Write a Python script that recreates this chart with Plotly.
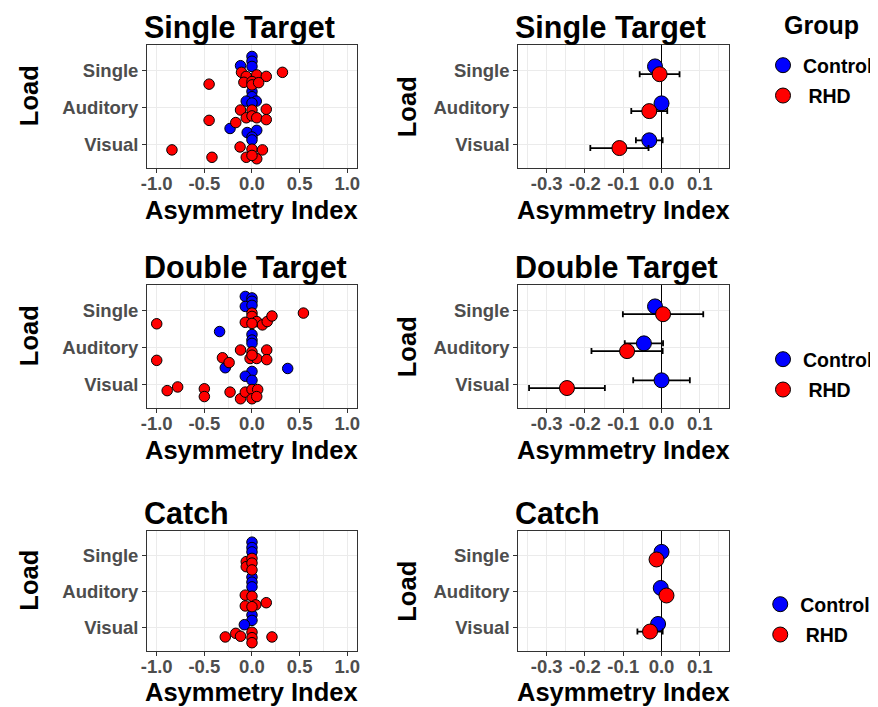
import plotly.graph_objects as go

# ---------------- data ----------------
loads = ["Single", "Auditory", "Visual"]
groups = ["Control", "RHD"]
panel_titles = ["Single Target", "Double Target", "Catch"]

# tick values / labels
left_ticks = [-1.0, -0.5, 0.0, 0.5, 1.0]
left_ticklabels = ["-1.0", "-0.5", "0.0", "0.5", "1.0"]
right_ticks = [-0.3, -0.2, -0.1, 0.0, 0.1]
right_ticklabels = ["-0.3", "-0.2", "-0.1", "0.0", "0.1"]

# Individual asymmetry indices (x) with their vertical jitter offsets
# --- Single Target ---
st_ctrl_single_x = [0.0, 0.0, -0.12, 0.0]
st_ctrl_single_j = [0.38, 0.25, 0.13, 0.11]
st_ctrl_aud_x = [0.0, 0.0, -0.06, 0.045, 0.0]
st_ctrl_aud_j = [0.43, 0.29, 0.17, 0.17, 0.12]
st_ctrl_vis_x = [-0.23, -0.05, 0.05, 0.0, 0.0]
st_ctrl_vis_j = [0.43, 0.32, 0.38, 0.20, 0.12]
st_rhd_single_x = [-0.11, -0.06, 0.05, 0.15, 0.32, -0.45, -0.085, 0.0, 0.0, 0.07]
st_rhd_single_j = [-0.05, -0.16, -0.12, -0.16, -0.05, -0.37, -0.32, -0.30, -0.39, -0.33]
st_rhd_aud_x = [-0.12, 0.0, 0.15, -0.06, 0.0, 0.05, 0.15, -0.45, -0.17]
st_rhd_aud_j = [-0.07, -0.07, -0.05, -0.28, -0.23, -0.28, -0.33, -0.35, -0.41]
st_rhd_vis_x = [-0.84, -0.125, 0.0, 0.11, -0.42, -0.06, 0.05, 0.0]
st_rhd_vis_j = [-0.15, -0.07, -0.13, -0.15, -0.35, -0.35, -0.39, -0.30]
# --- Double Target ---
dt_ctrl_single_x = [-0.07, 0.0, 0.0, -0.07, 0.0]
dt_ctrl_single_j = [0.38, 0.34, 0.25, 0.11, 0.14]
dt_ctrl_aud_x = [-0.34, 0.0, 0.0, 0.0]
dt_ctrl_aud_j = [0.43, 0.35, 0.20, 0.11]
dt_ctrl_vis_x = [-0.28, 0.375, 0.0, -0.07, 0.0]
dt_ctrl_vis_j = [0.45, 0.43, 0.35, 0.22, 0.11]
dt_rhd_single_x = [0.0, 0.0, -0.07, 0.05, 0.11, 0.16, 0.21, 0.54, -1.0, 0.0]
dt_rhd_single_j = [-0.07, -0.16, -0.32, -0.30, -0.39, -0.30, -0.15, -0.07, -0.36, -0.35]
dt_rhd_aud_x = [-0.12, 0.0, 0.155, -0.31, -0.24, -0.02, 0.05, 0.155, -1.0, 0.0]
dt_rhd_aud_j = [-0.07, -0.12, -0.07, -0.28, -0.41, -0.30, -0.30, -0.33, -0.35, -0.21]
dt_rhd_vis_x = [-0.89, -0.78, -0.5, -0.5, -0.23, -0.12, -0.07, 0.0, 0.06, 0.0, 0.05]
dt_rhd_vis_j = [-0.17, -0.07, -0.12, -0.33, -0.21, -0.39, -0.21, -0.14, -0.14, -0.39, -0.33]
# --- Catch ---
ca_ctrl_single_x = [0.0, 0.0, 0.0]
ca_ctrl_single_j = [0.38, 0.23, 0.11]
ca_ctrl_aud_x = [0.0, 0.0, 0.0]
ca_ctrl_aud_j = [0.41, 0.27, 0.14]
ca_ctrl_vis_x = [0.0, 0.0, -0.08]
ca_ctrl_vis_j = [0.36, 0.21, 0.09]
ca_rhd_single_x = [-0.06, -0.06, 0.0, 0.0, 0.0]
ca_rhd_single_j = [-0.16, -0.30, -0.07, -0.20, -0.39]
ca_rhd_aud_x = [-0.07, 0.0, 0.15, -0.07, 0.04, 0.0]
ca_rhd_aud_j = [-0.09, -0.12, -0.30, -0.39, -0.36, -0.41]
ca_rhd_vis_x = [-0.28, -0.17, -0.12, 0.0, 0.0, 0.0, 0.21]
ca_rhd_vis_j = [-0.25, -0.15, -0.23, -0.12, -0.27, -0.41, -0.25]

# Group means and error-bar half widths (order: Single, Auditory, Visual)
st_ctrl_mean = [-0.017, 0.0, -0.032]
st_ctrl_err = [0.012, 0.012, 0.035]
st_rhd_mean = [-0.005, -0.032, -0.110]
st_rhd_err = [0.052, 0.047, 0.076]
dt_ctrl_mean = [-0.017, -0.046, 0.0]
dt_ctrl_err = [0.012, 0.050, 0.074]
dt_rhd_mean = [0.004, -0.090, -0.247]
dt_rhd_err = [0.105, 0.093, 0.099]
ca_ctrl_mean = [0.0, -0.002, -0.009]
ca_ctrl_err = [0.005, 0.005, 0.010]
ca_rhd_mean = [-0.013, 0.013, -0.030]
ca_rhd_err = [0.005, 0.005, 0.033]

raw = [
    [[st_ctrl_single_x, st_ctrl_aud_x, st_ctrl_vis_x], [st_rhd_single_x, st_rhd_aud_x, st_rhd_vis_x]],
    [[dt_ctrl_single_x, dt_ctrl_aud_x, dt_ctrl_vis_x], [dt_rhd_single_x, dt_rhd_aud_x, dt_rhd_vis_x]],
    [[ca_ctrl_single_x, ca_ctrl_aud_x, ca_ctrl_vis_x], [ca_rhd_single_x, ca_rhd_aud_x, ca_rhd_vis_x]],
]
jit = [
    [[st_ctrl_single_j, st_ctrl_aud_j, st_ctrl_vis_j], [st_rhd_single_j, st_rhd_aud_j, st_rhd_vis_j]],
    [[dt_ctrl_single_j, dt_ctrl_aud_j, dt_ctrl_vis_j], [dt_rhd_single_j, dt_rhd_aud_j, dt_rhd_vis_j]],
    [[ca_ctrl_single_j, ca_ctrl_aud_j, ca_ctrl_vis_j], [ca_rhd_single_j, ca_rhd_aud_j, ca_rhd_vis_j]],
]
means = [[st_ctrl_mean, st_rhd_mean], [dt_ctrl_mean, dt_rhd_mean], [ca_ctrl_mean, ca_rhd_mean]]
errs = [[st_ctrl_err, st_rhd_err], [dt_ctrl_err, dt_rhd_err], [ca_ctrl_err, ca_rhd_err]]

# ---------------- styling / layout ----------------
OFF = 8                      # page body margin of the browser
W, H = 878 - OFF, 707 - OFF  # figure size so that it ends at the window edge
FONT = "Liberation Sans, Arial, sans-serif"
GRID = "#EBEBEB"
BORDER = "#333333"
TICKC = "#4D4D4D"
COLORS = {"Control": "#0000FF", "RHD": "#FF0000"}
DODGE = {"Control": 0.11, "RHD": -0.10}


def px(x):
    return (x - OFF) / W


def py(y):
    return 1 - (y - OFF) / H


col_x = [(144, 358), (523, 738)]
row_y = [(45, 168), (285, 408), (531, 651)]
xtitle_gap = [42, 42, 41]
cat_pos = {ld: len(loads) - i for i, ld in enumerate(loads)}

fig = go.Figure()
legend_names = ["legend", "legend2", "legend3"]

for r in range(3):
    # left: individual points
    n = r * 2 + 1
    for g, grp in enumerate(groups):
        xs, ys = [], []
        for li, ld in enumerate(loads):
            xs += raw[r][g][li]
            ys += [cat_pos[ld] + o for o in jit[r][g][li]]
        fig.add_trace(go.Scatter(
            x=xs, y=ys, mode="markers", name=grp, showlegend=False,
            xaxis=f"x{n}", yaxis=f"y{n}",
            marker=dict(size=10.5, color=COLORS[grp], line=dict(color="black", width=1)),
        ))
    # right: means with error bars
    n = r * 2 + 2
    for g, grp in enumerate(groups):
        fig.add_trace(go.Scatter(
            x=means[r][g], y=[cat_pos[ld] + DODGE[grp] for ld in loads],
            mode="markers", name=grp if grp == "Control" else "\u00a0" + grp,
            legend=legend_names[r], showlegend=True, legendgroup=f"{grp}{r}",
            xaxis=f"x{n}", yaxis=f"y{n}",
            error_x=dict(type="data", array=errs[r][g], color="black", thickness=1.8, width=3),
            marker=dict(size=15, color=COLORS[grp], line=dict(color="black", width=1)),
        ))

tickfont = dict(family=FONT, size=18.5, color=TICKC, weight="bold")
layout = dict(
    width=W, height=H, margin=dict(l=0, r=0, t=0, b=0),
    paper_bgcolor="white", plot_bgcolor="white",
    font=dict(family=FONT, color="black"),
)
annotations = []
for r in range(3):
    y0, y1 = row_y[r]
    for c in range(2):
        n = r * 2 + c + 1
        x0, x1 = col_x[c]
        sfx = "" if n == 1 else str(n)
        if c == 0:
            xr, tv, tt = [-1.1, 1.1], left_ticks, left_ticklabels
        else:
            xr, tv, tt = [-0.374, 0.176], right_ticks, right_ticklabels
        step = tv[1] - tv[0]
        minor_vals = [tv[0] - step / 2] + [v + step / 2 for v in tv]
        layout["xaxis" + sfx] = dict(
            domain=[px(x0), px(x1)], anchor="y" + sfx,
            range=xr, tickmode="array", tickvals=tv, ticktext=tt,
            showgrid=True, gridcolor=GRID, gridwidth=1.2,
            minor=dict(tickmode="array", tickvals=minor_vals, showgrid=True,
                       gridcolor=GRID, gridwidth=0.7, ticks=""),
            showline=True, mirror=True, linecolor=BORDER, linewidth=1.2,
            ticks="outside", ticklen=4, tickcolor=BORDER, tickwidth=1.2,
            tickfont=tickfont, ticklabelstandoff=-5,
            zeroline=(c == 1), zerolinecolor="black", zerolinewidth=1.3,
        )
        layout["yaxis" + sfx] = dict(
            domain=[py(y1), py(y0)], anchor="x" + sfx,
            range=[0.36, 3.69], tickmode="array",
            tickvals=[cat_pos[ld] for ld in loads], ticktext=loads,
            showgrid=True, gridcolor=GRID, gridwidth=1.2, zeroline=False,
            showline=True, mirror=True, linecolor=BORDER, linewidth=1.2,
            ticks="outside", ticklen=4, tickcolor=BORDER, tickwidth=1.2,
            tickfont=tickfont,
        )
        # panel title
        annotations.append(dict(
            text=panel_titles[r], x=px(x0 - 5), y=py(y0 - 18), xref="paper", yref="paper",
            xanchor="left", yanchor="middle", showarrow=False,
            font=dict(family=FONT, size=30.5, color="black", weight="bold"),
        ))
        # x-axis title
        annotations.append(dict(
            text="Asymmetry Index", x=px((x0 + x1) / 2), y=py(y1 + xtitle_gap[r]),
            xref="paper", yref="paper",
            xanchor="center", yanchor="middle", showarrow=False,
            font=dict(family=FONT, size=25.5, color="black", weight="bold"),
        ))
        # y-axis title
        ly = (y0 + y1) / 2 - (11 if c == 0 else 0)
        lx = 23 if c == 0 else 409
        annotations.append(dict(
            text="Load", x=px(lx), y=py(ly), xref="paper", yref="paper", textangle=-90,
            xanchor="center", yanchor="middle", showarrow=False,
            font=dict(family=FONT, size=25.5, color="black", weight="bold"),
        ))
# legend title of the first legend
annotations.append(dict(
    text="Group", x=px(792), y=py(25), xref="paper", yref="paper",
    xanchor="left", yanchor="middle", showarrow=False,
    font=dict(family=FONT, size=25, color="black", weight="bold"),
))
layout["annotations"] = annotations

leg_font = dict(family=FONT, size=19.5, color="black", weight="bold")
for name, lx, ly in [("legend", 773, 46), ("legend2", 773, 340), ("legend3", 770, 585)]:
    layout[name] = dict(
        x=px(lx), y=py(ly), xanchor="left", yanchor="top", font=leg_font,
        bgcolor="rgba(0,0,0,0)", tracegroupgap=2,
    )
fig.update_layout(**layout)

fig.write_html("out.html")
